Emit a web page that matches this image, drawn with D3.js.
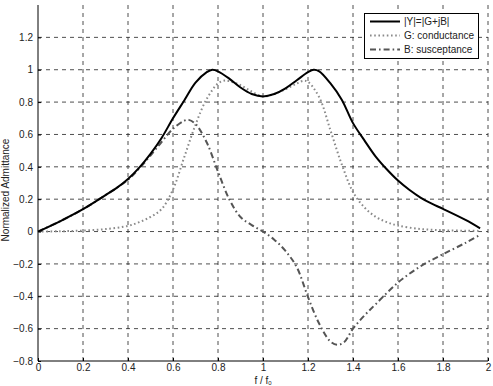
<!DOCTYPE html>
<html>
<head>
<meta charset="utf-8">
<script src="https://cdn.jsdelivr.net/npm/d3@7"></script>
<style>
  body { margin: 0; background: #fff; }
  svg { display: block; font-family: "Liberation Sans", Arial, sans-serif; }
</style>
</head>
<body>
<script>
// values
const fY = [0, 0.1, 0.2, 0.3, 0.35, 0.4, 0.45, 0.5, 0.55, 0.6, 0.65, 0.7, 0.75, 0.775, 0.8, 0.85, 0.9, 0.95, 1.0,
  1.05, 1.1, 1.15, 1.2, 1.225, 1.25, 1.3, 1.35, 1.4, 1.45, 1.5, 1.55, 1.6, 1.65, 1.7, 1.75, 1.8, 1.9, 1.965];
const magY = [0, 0.065, 0.138, 0.225, 0.27, 0.325, 0.395, 0.48, 0.58, 0.7, 0.81, 0.92, 0.985, 1.0, 0.99, 0.945, 0.89, 0.85, 0.835,
  0.85, 0.885, 0.935, 0.985, 1.0, 0.99, 0.915, 0.815, 0.67, 0.565, 0.465, 0.385, 0.315, 0.258, 0.21, 0.172, 0.14, 0.072, 0.02];

const fG = [0, 0.1, 0.2, 0.3, 0.4, 0.45, 0.5, 0.55, 0.6, 0.65, 0.7, 0.75, 0.8, 0.83, 0.85, 0.9, 0.95, 1.0,
  1.05, 1.1, 1.15, 1.18, 1.2, 1.25, 1.3, 1.35, 1.4, 1.45, 1.5, 1.55, 1.6, 1.7, 1.8, 1.9, 1.965];
const gVals = [0, 0.002, 0.006, 0.015, 0.035, 0.058, 0.09, 0.14, 0.26, 0.46, 0.66, 0.82, 0.915, 0.933, 0.93, 0.905, 0.865, 0.835,
  0.85, 0.88, 0.915, 0.932, 0.925, 0.83, 0.625, 0.415, 0.245, 0.15, 0.092, 0.058, 0.037, 0.016, 0.008, 0.005, 0.004];

const fB = [0, 0.1, 0.2, 0.3, 0.4, 0.45, 0.5, 0.55, 0.6, 0.65, 0.67, 0.7, 0.75, 0.8, 0.85, 0.9, 0.95, 1.0,
  1.05, 1.1, 1.15, 1.2, 1.25, 1.3, 1.33, 1.36, 1.4, 1.45, 1.5, 1.6, 1.7, 1.8, 1.9, 1.965];
const bVals = [0, 0.065, 0.138, 0.225, 0.32, 0.39, 0.47, 0.555, 0.635, 0.685, 0.69, 0.665, 0.55, 0.37, 0.2, 0.09, 0.04, 0,
  -0.05, -0.12, -0.22, -0.405, -0.57, -0.68, -0.7, -0.685, -0.6, -0.52, -0.45, -0.315, -0.215, -0.14, -0.07, -0.02];

const xTicks = [0, 0.2, 0.4, 0.6, 0.8, 1, 1.2, 1.4, 1.6, 1.8, 2];
const yTicks = [-0.8, -0.6, -0.4, -0.2, 0, 0.2, 0.4, 0.6, 0.8, 1, 1.2];
const legendLabels = ['|Y|=|G+jB|', 'G: conductance', 'B: susceptance'];

const width = 493, height = 386;
const margin = {top: 5, right: 5, bottom: 25, left: 38};

const svg = d3.select('body').append('svg')
  .attr('width', width)
  .attr('height', height);

const x = d3.scaleLinear().domain([0, 2]).range([margin.left, width - margin.right]);
const y = d3.scaleLinear().domain([-0.8, 1.4]).range([height - margin.bottom, margin.top]);

// grid
const grid = svg.append('g')
  .attr('stroke', '#222')
  .attr('stroke-width', 0.8)
  .attr('stroke-dasharray', '4,4');

grid.selectAll('.vgrid')
  .data(xTicks.filter(d => d > 0))
  .enter().append('line')
  .attr('x1', d => x(d)).attr('x2', d => x(d))
  .attr('y1', y(-0.8)).attr('y2', y(1.4));

grid.selectAll('.hgrid')
  .data(yTicks.filter(d => d > -0.8))
  .enter().append('line')
  .attr('x1', x(0)).attr('x2', x(2))
  .attr('y1', d => y(d)).attr('y2', d => y(d));

// axes
const xAxis = svg.append('g')
  .attr('transform', `translate(0,${y(-0.8)})`)
  .call(d3.axisBottom(x).tickValues(xTicks).tickSize(-3).tickPadding(3).tickFormat(d3.format('')));

const yAxis = svg.append('g')
  .attr('transform', `translate(${x(0)},0)`)
  .call(d3.axisLeft(y).tickValues(yTicks).tickSize(-3).tickPadding(5).tickFormat(d3.format('')));

[xAxis, yAxis].forEach(a => {
  a.select('.domain').attr('stroke', '#000').attr('stroke-width', 1);
  a.selectAll('.tick line').attr('stroke', '#000');
  a.selectAll('text').attr('font-size', 10).attr('fill', '#222')
    .style('font-family', '"Liberation Sans", Arial, sans-serif');
});
yAxis.select('.domain').attr('d', `M0,${y(-0.8)}V${y(1.4)}`);
xAxis.select('.domain').attr('d', `M${x(0)},0H${x(2)}`);

// axis labels
svg.append('text')
  .attr('x', x(1)).attr('y', 384)
  .attr('text-anchor', 'middle')
  .attr('font-size', 10).attr('fill', '#222')
  .text('f / f')
  .append('tspan').attr('font-size', 6).attr('dy', 1).text('0');

svg.append('text')
  .attr('transform', `translate(9,190) rotate(-90)`)
  .attr('text-anchor', 'middle')
  .attr('font-size', 10).attr('fill', '#222')
  .text('Normalized Admittance');

// curves
const line = d3.line().x(d => x(d[0])).y(d => y(d[1])).curve(d3.curveCatmullRom.alpha(0.5));

const series = [
  {pts: d3.zip(fG, gVals), color: '#8a8a8a', dash: '1.6,2.6', width: 2},
  {pts: d3.zip(fB, bVals), color: '#555', dash: '6,3,1.6,3', width: 2},
  {pts: d3.zip(fY, magY), color: '#000', dash: null, width: 2}
];

svg.append('g').selectAll('path')
  .data(series)
  .enter().append('path')
  .attr('d', d => line(d.pts))
  .attr('fill', 'none')
  .attr('stroke', d => d.color)
  .attr('stroke-width', d => d.width)
  .attr('stroke-dasharray', d => d.dash);

// legend
const legend = svg.append('g');
legend.append('rect')
  .attr('x', 364.5).attr('y', 13.5)
  .attr('width', 114).attr('height', 45)
  .attr('fill', '#fff').attr('stroke', '#000').attr('stroke-width', 1);

const legendStyles = [series[2], series[0], series[1]];
const rows = legend.selectAll('.row')
  .data(legendLabels)
  .enter().append('g')
  .attr('transform', (d, i) => `translate(0,${21.5 + i * 14})`);

rows.append('line')
  .attr('x1', 370).attr('x2', 400)
  .attr('stroke', (d, i) => legendStyles[i].color)
  .attr('stroke-width', (d, i) => legendStyles[i].width)
  .attr('stroke-dasharray', (d, i) => legendStyles[i].dash);

rows.append('text')
  .attr('x', 404).attr('dy', '0.35em')
  .attr('font-size', 10).attr('fill', '#222')
  .text(d => d);
</script>
</body>
</html>
